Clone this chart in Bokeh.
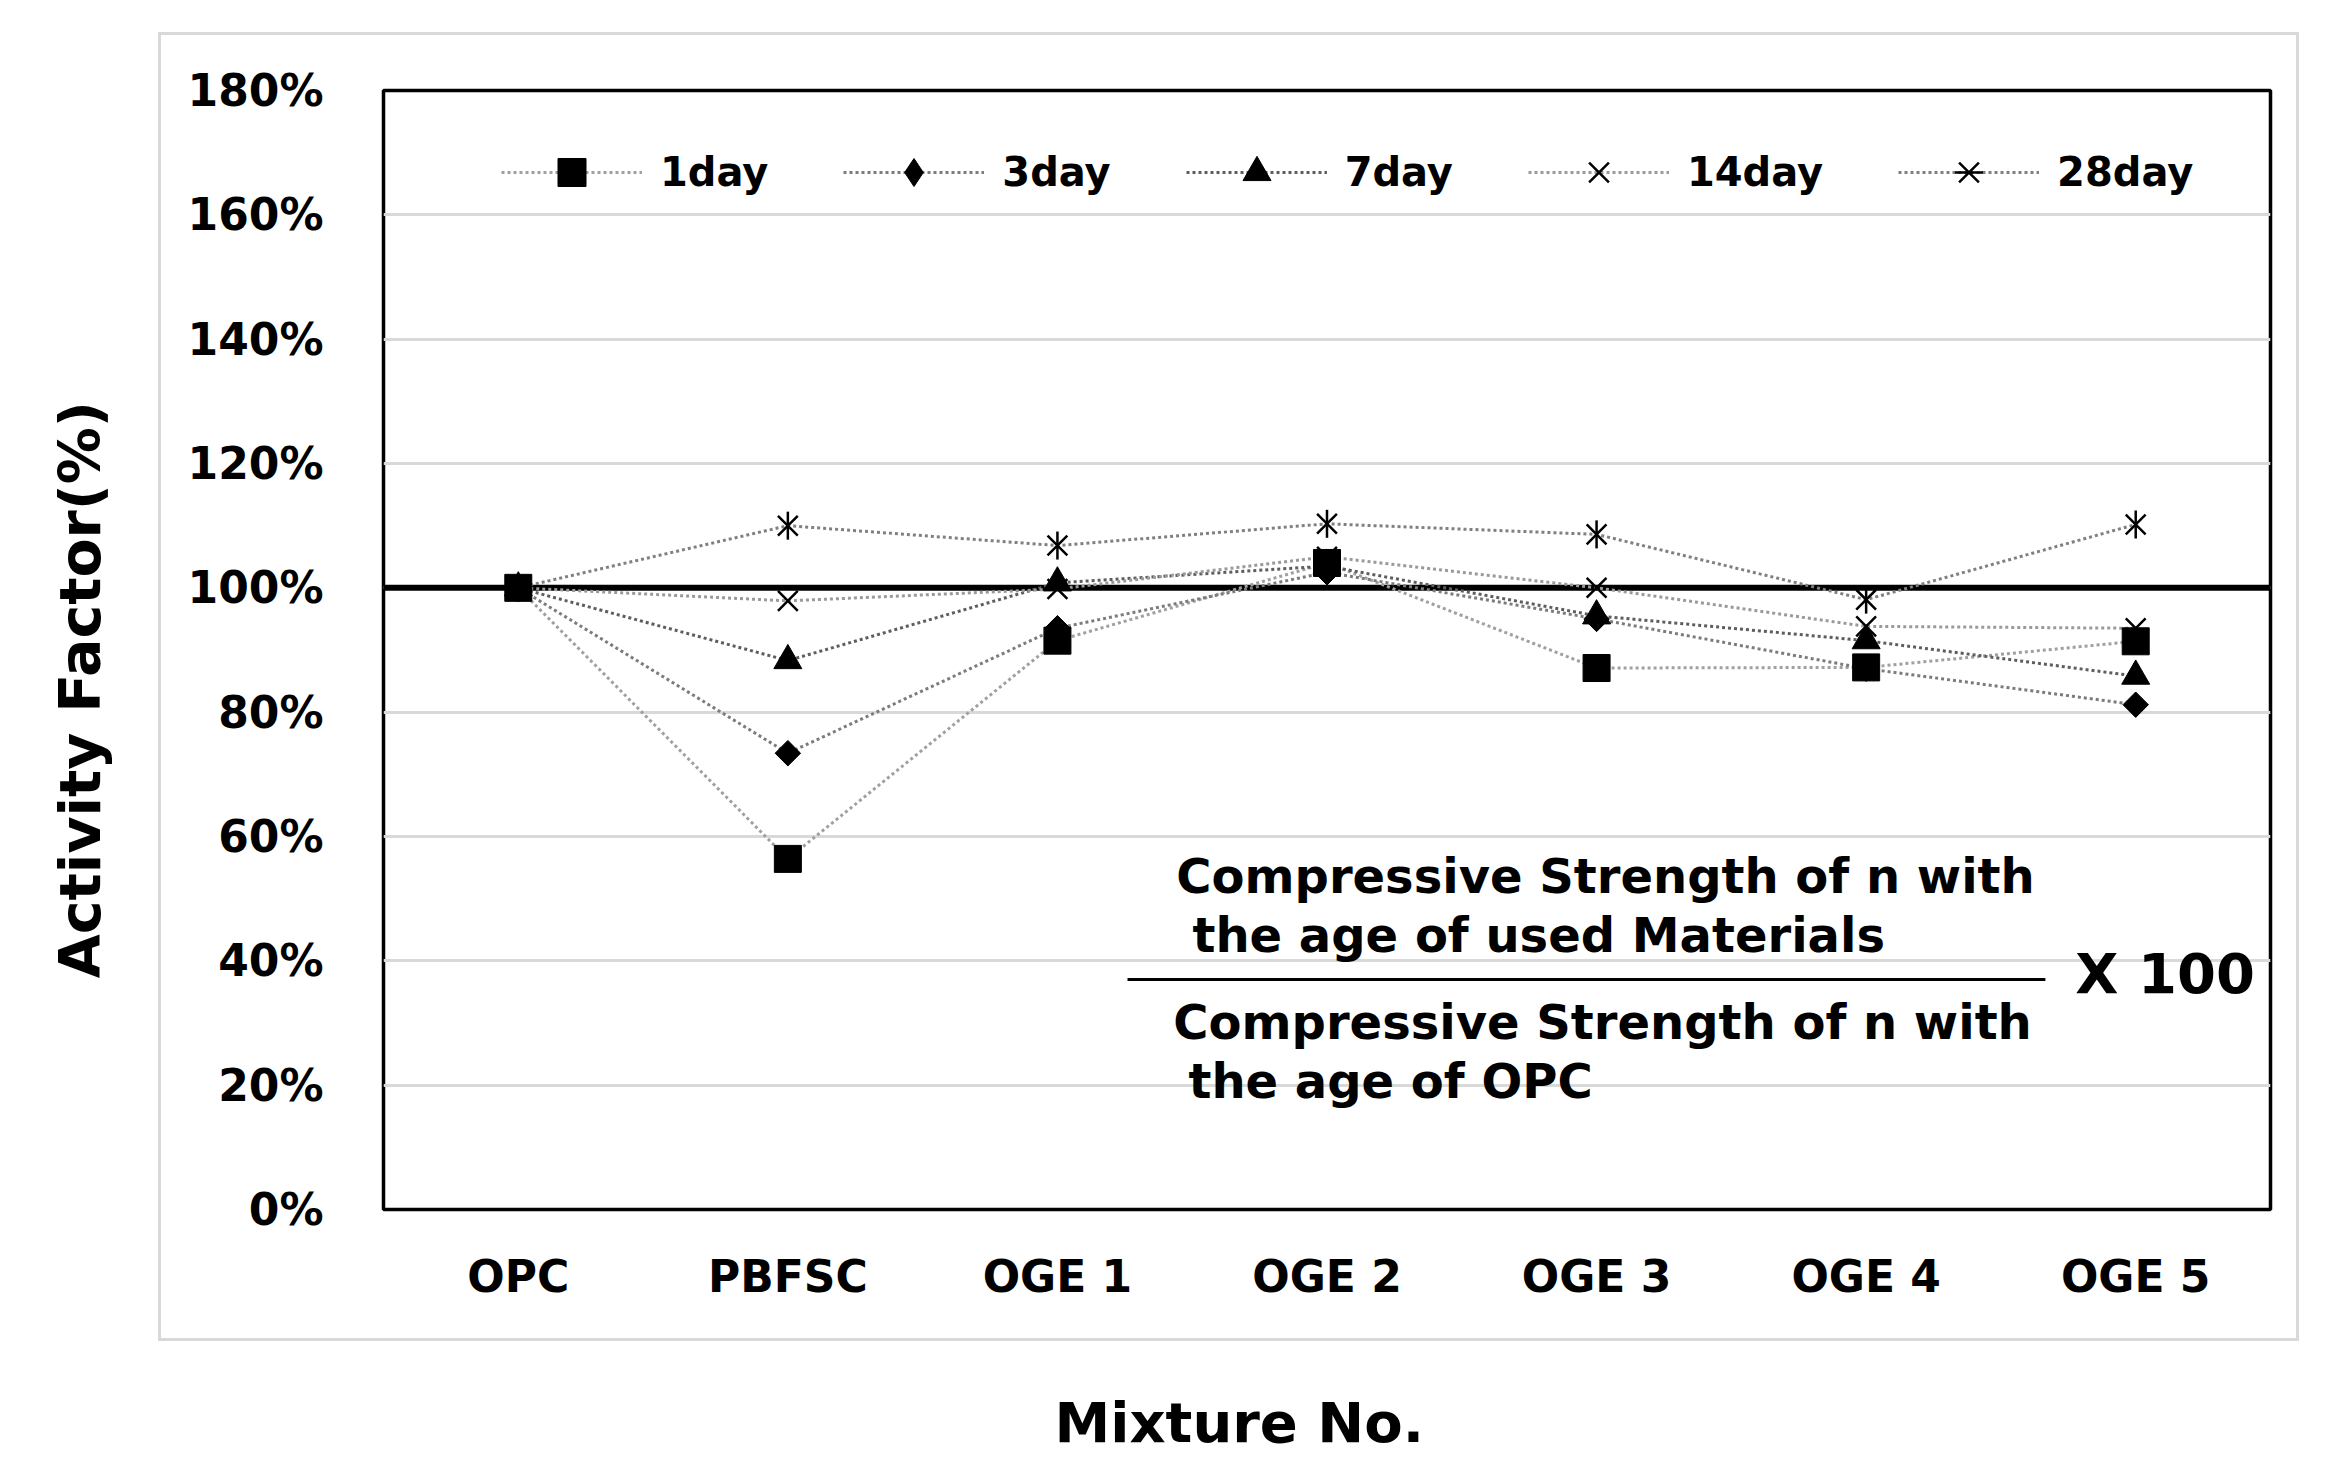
from bokeh.plotting import figure
from bokeh.models import (FactorRange, Range1d, FixedTicker, PrintfTickFormatter, Span,
                          Legend, LegendItem, Label, InlineStyleSheet)
from bokeh.embed import file_html
from bokeh.resources import INLINE

# ---------------- data ----------------
categories = ["OPC", "PBFSC", "OGE 1", "OGE 2", "OGE 3", "OGE 4", "OGE 5"]
series_names = ["1day", "3day", "7day", "14day", "28day"]
day1 = [100, 56.4, 91.5, 104.0, 87.1, 87.2, 91.4]
day3 = [100, 73.4, 93.5, 102.5, 95.0, 87.0, 81.2]
day7 = [100, 88.3, 100.8, 103.5, 95.5, 91.5, 85.8]
day14 = [100, 97.9, 99.8, 105.0, 100.0, 93.8, 93.5]
day28 = [100, 110.0, 106.8, 110.3, 108.6, 98.1, 110.2]
y_ticks = [0, 20, 40, 60, 80, 100, 120, 140, 160, 180]
reference_level = 100
x_title = "Mixture No."
y_title = "Activity Factor(%)"

FONT = "DejaVu Sans"
NBSP = "\u00a0"

p = figure(width=2312, height=1461,
           x_range=FactorRange(factors=categories, range_padding=0),
           y_range=Range1d(0, 180),
           output_backend="svg", toolbar_location=None,
           min_border_left=383, min_border_right=42,
           min_border_top=90, min_border_bottom=252)

p.background_fill_color = "white"
p.border_fill_color = "white"
p.outline_line_color = "black"
p.outline_line_width = 3.5

# outer light-grey chart-area box (decorative frame around the chart area)
p.stylesheets = [InlineStyleSheet(css="""
:host { position: relative; }
:host::after {
  content: ""; position: absolute; left: 158px; top: 32px;
  width: 2141px; height: 1309px; box-sizing: border-box;
  border: 3px solid #d9d9d9; pointer-events: none; z-index: 5;
}
""")]

# grid
p.xgrid.visible = False
p.ygrid.ticker = FixedTicker(ticks=y_ticks)
p.ygrid.grid_line_color = "#d9d9d9"
p.ygrid.grid_line_width = 3

# axes
for ax in (p.xaxis[0], p.yaxis[0]):
    ax.axis_line_color = None
    ax.major_tick_line_color = None
    ax.minor_tick_line_color = None
    ax.major_label_text_font = FONT
    ax.major_label_text_font_style = "bold"
    ax.major_label_text_font_size = "44px"
    ax.major_label_text_color = "black"
    ax.axis_label_text_font = FONT
    ax.axis_label_text_font_style = "bold"
    ax.axis_label_text_color = "black"

p.yaxis[0].ticker = FixedTicker(ticks=y_ticks)
p.yaxis[0].formatter = PrintfTickFormatter(format="%d%%")
p.yaxis[0].major_label_standoff = 54
p.yaxis[0].axis_label = y_title + NBSP * 4      # original title sits below centre
p.yaxis[0].axis_label_text_font_size = "57px"
p.yaxis[0].axis_label_standoff = 72

p.xaxis[0].major_label_standoff = 35
p.xaxis[0].axis_label = x_title + NBSP * 9      # original title sits left of centre
p.xaxis[0].axis_label_text_font_size = "56px"
p.xaxis[0].axis_label_standoff = 85

# 100% reference line
p.add_layout(Span(location=reference_level, dimension="width", line_color="black",
                  line_width=6, level="underlay"))

# series
all_vals = [day1, day3, day7, day14, day28]
line_colors = ["#a0a0a0", "#7c7c7c", "#5e5e5e", "#9a9a9a", "#808080"]
line_renderers = []
for vals, col in zip(all_vals, line_colors):
    line_renderers.append(p.line(categories, vals, line_color=col, line_width=3,
                                 line_dash="3 3"))

m1 = p.scatter(categories, day1, marker="square", size=27, color="black")
m3a = p.scatter(categories, day3, marker="square", size=18, angle=0.7853982, color="black")
m3 = p.scatter(categories, day3, marker="diamond", size=20, color="black")
m7 = p.scatter(categories, day7, marker="triangle", size=28, color="black")
m14 = p.scatter(categories, day14, marker="x", size=28, line_color="black", line_width=2.5)
m28a = p.scatter(categories, day28, marker="x", size=28, line_color="black", line_width=2.5)
m28b = p.scatter(categories, day28, marker="dash", size=28, angle=1.5707963, line_color="black",
                 line_width=2.5)

marker_groups = [[m1], [m3], [m7], [m14], [m28a, m28b]]
items = [LegendItem(label=name, renderers=[lr] + mg)
         for name, lr, mg in zip(series_names, line_renderers, marker_groups)]
legend = Legend(items=items, orientation="horizontal", location=(118, 1002),
                glyph_width=141, glyph_height=70, label_standoff=18, spacing=75,
                padding=0, margin=0, border_line_alpha=0, background_fill_alpha=0,
                label_text_font=FONT, label_text_font_style="bold",
                label_text_font_size="40px", label_text_color="black")
p.add_layout(legend)

# formula annotation
txt = dict(text_font=FONT, text_font_style="bold", text_font_size="48px",
           text_baseline="middle", text_align="left", text_color="black")
p.add_layout(Label(x=2.941, y=53.6, text="Compressive Strength of n with", **txt))
p.add_layout(Label(x=3.001, y=44.2, text="the age of used Materials", **txt))
p.add_layout(Label(x=2.930, y=30.1, text="Compressive Strength of n with", **txt))
p.add_layout(Label(x=2.986, y=20.7, text="the age of OPC", **txt))
p.add_layout(Label(x=6.276, y=38.0, text="X 100", text_font=FONT, text_font_style="bold",
                   text_font_size="56px", text_baseline="middle", text_align="left",
                   text_color="black"))
p.segment(x0=[2.760], y0=[37.0], x1=[6.165], y1=[37.0], line_color="black", line_width=3)

open("out.html", "w").write(file_html(p, INLINE))
